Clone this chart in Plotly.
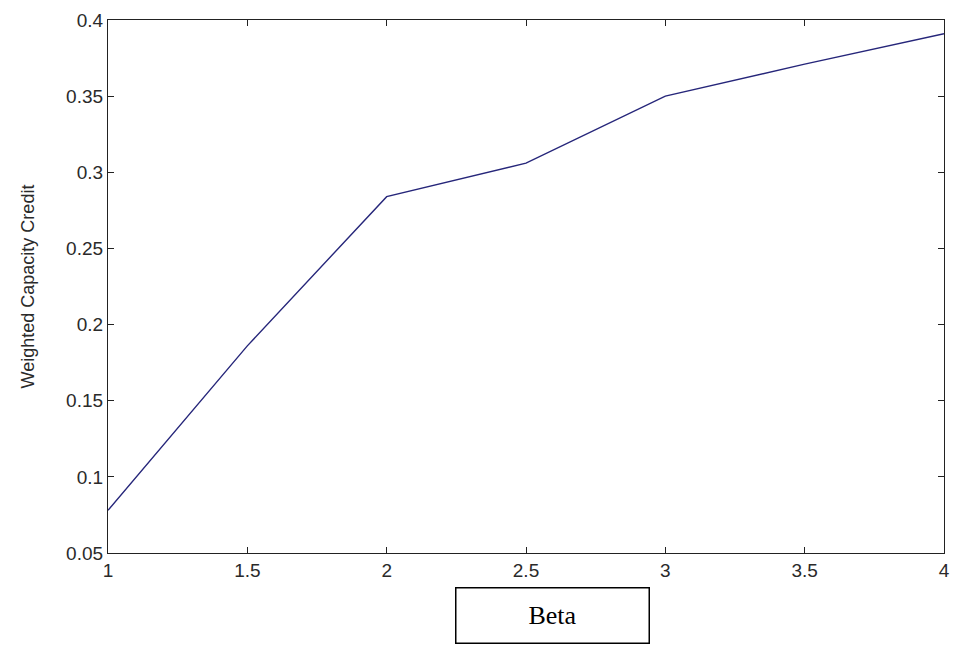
import plotly.graph_objects as go

beta = [1, 1.5, 2, 2.5, 3, 3.5, 4]
credit = [0.078, 0.186, 0.284, 0.306, 0.350, 0.371, 0.391]
x_ticks = [1, 1.5, 2, 2.5, 3, 3.5, 4]
x_tick_text = ["1", "1.5", "2", "2.5", "3", "3.5", "4"]
y_ticks = [0.05, 0.1, 0.15, 0.2, 0.25, 0.3, 0.35, 0.4]
y_tick_text = ["0.05", "0.1", "0.15", "0.2", "0.25", "0.3", "0.35", "0.4"]

fig = go.Figure()
fig.add_trace(go.Scatter(x=beta, y=credit, mode="lines",
                         line=dict(color="#26267a", width=1.4),
                         showlegend=False, hoverinfo="skip"))

axis_common = dict(showgrid=False, zeroline=False, showline=True,
                   linecolor="#222222", linewidth=1.2, mirror="ticks",
                   ticks="inside", ticklen=6, tickcolor="#222222", tickwidth=1,
                   tickfont=dict(family="Liberation Sans, Arial, sans-serif",
                                 size=19, color="#2a2a2a"))

fig.update_xaxes(range=[1, 4], tickvals=x_ticks, ticktext=x_tick_text, **axis_common)
fig.update_yaxes(range=[0.05, 0.4], tickvals=y_ticks, ticktext=y_tick_text,
                 title=dict(text="Weighted Capacity Credit", standoff=26,
                            font=dict(family="Liberation Sans, Arial, sans-serif",
                                      size=18, color="#2a2a2a")),
                 **axis_common)

fig.add_annotation(text="Beta", xref="paper", yref="paper",
                   x=(556 - 108) / 842, y=-(615 - 553) / 533,
                   xanchor="center", yanchor="middle", showarrow=False,
                   width=190, height=52, bordercolor="#000000", borderwidth=1.5,
                   bgcolor="#ffffff",
                   font=dict(family="Liberation Serif, Times New Roman, serif",
                             size=26, color="#000000"))

fig.update_layout(width=958, height=645,
                  margin=dict(l=108, r=8, t=20, b=92),
                  paper_bgcolor="#ffffff", plot_bgcolor="#ffffff")

fig.write_html("out.html")
